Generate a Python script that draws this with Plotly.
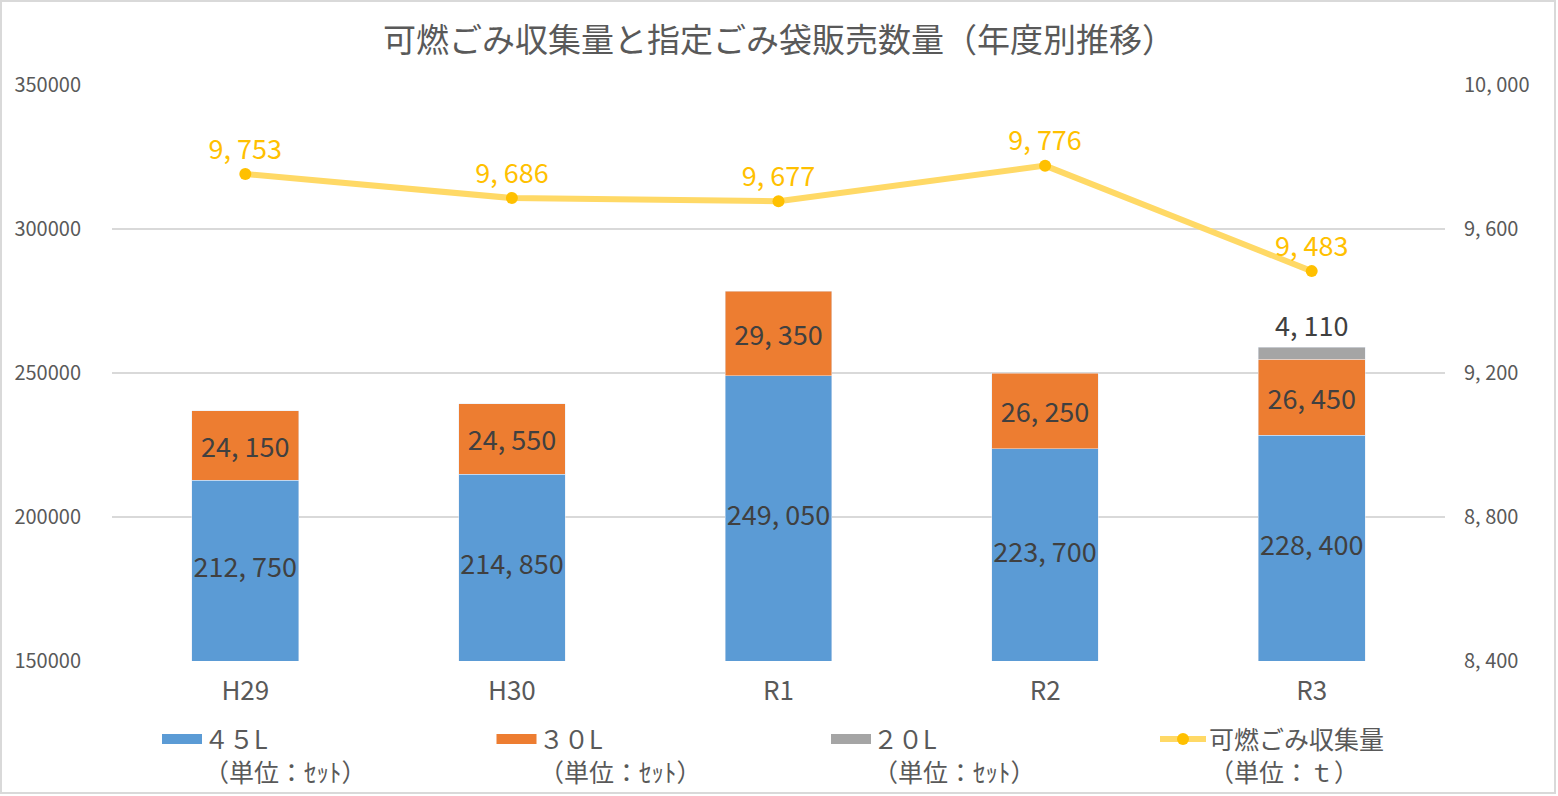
import plotly.graph_objects as go

years = ["H29", "H30", "R1", "R2", "R3"]
bags_45 = [212750, 214850, 249050, 223700, 228400]
bags_30 = [24150, 24550, 29350, 26250, 26450]
bags_20 = [None, None, None, None, 4110]
burnable_t = [9753, 9686, 9677, 9776, 9483]

left_ticks = [150000, 200000, 250000, 300000, 350000]
right_ticks = [8400, 8800, 9200, 9600, 10000]

title_text = "可燃ごみ収集量と指定ごみ袋販売数量（年度別推移）"
legend_names = ["４５L", "３０L", "２０L", "可燃ごみ収集量"]
legend_units = ["（単位：ｾｯﾄ）", "（単位：ｾｯﾄ）", "（単位：ｾｯﾄ）", "（単位：ｔ）"]
colors = ["#5B9BD5", "#ED7D31", "#A5A5A5"]
LINE_C, MARK_C = "#FFD966", "#FFC000"

FONT = "Noto Sans CJK JP, Noto Sans, sans-serif"

def fmt(v):
    return "" if v is None else f"{v:,}".replace(",", ", ")

W, H = 1558, 796
L, R, T, B = 112, 113, 85, 135
pw, ph = W - L - R, H - T - B
Y0 = 150000

def px(x):
    return (x - L) / pw

def py(y):
    return (T + ph - y) / ph

fig = go.Figure()
fig.add_trace(go.Bar(x=years, y=bags_45, name=legend_names[0], marker_color=colors[0],
                     width=0.4, showlegend=False, hoverinfo="skip"))
fig.add_trace(go.Bar(x=years, y=bags_30, name=legend_names[1], marker_color=colors[1],
                     width=0.4, showlegend=False, text=[fmt(v) for v in bags_30],
                     textposition="inside", insidetextanchor="middle", textangle=0,
                     textfont=dict(family=FONT, size=27, color="#404040")))
fig.add_trace(go.Bar(x=years, y=bags_20, name=legend_names[2], marker_color=colors[2],
                     width=0.4, showlegend=False, text=[fmt(v) for v in bags_20],
                     textposition="outside", textangle=0, cliponaxis=False,
                     textfont=dict(family=FONT, size=27, color="#404040")))
# labels of the 45L segment, centred on its visible part
fig.add_trace(go.Scatter(x=years, y=[(Y0 + v) / 2 for v in bags_45], mode="text",
                         text=[fmt(v) for v in bags_45], showlegend=False,
                         textfont=dict(family=FONT, size=27, color="#404040"),
                         hoverinfo="skip"))
fig.add_trace(go.Scatter(x=years, y=burnable_t, name=legend_names[3], yaxis="y2",
                         mode="lines+markers+text", showlegend=False,
                         line=dict(color=LINE_C, width=6),
                         marker=dict(color=MARK_C, size=12),
                         text=[fmt(v) for v in burnable_t], textposition="top center",
                         textfont=dict(family=FONT, size=27, color=MARK_C),
                         cliponaxis=False))

shapes = [dict(type="rect", xref="paper", yref="paper",
               x0=px(1), x1=px(W - 3), y0=py(H - 3), y1=py(1),
               line=dict(color="#D9D9D9", width=2), fillcolor="rgba(0,0,0,0)", layer="above")]
annotations = []
step = 334.5
for i in range(4):
    x0 = 162 + step * i
    if i < 3:
        shapes.append(dict(type="rect", xref="paper", yref="paper",
                           x0=px(x0), x1=px(x0 + 40), y0=py(744), y1=py(734),
                           fillcolor=colors[i], line=dict(width=0)))
        tx = x0 + 40
    else:
        x0 = 1160
        shapes.append(dict(type="line", xref="paper", yref="paper",
                           x0=px(x0), x1=px(x0 + 46), y0=py(739), y1=py(739),
                           line=dict(color=LINE_C, width=6)))
        shapes.append(dict(type="circle", xref="paper", yref="paper",
                           x0=px(x0 + 17), x1=px(x0 + 29), y0=py(745), y1=py(733),
                           fillcolor=MARK_C, line=dict(width=0)))
        tx = x0 + 47
    annotations.append(dict(xref="paper", yref="paper", x=px(tx), y=py(718),
                            xanchor="left", yanchor="top", showarrow=False, align="left",
                            text=legend_names[i] + "<br>" + legend_units[i],
                            font=dict(family=FONT, size=25, color="#595959")))

fig.update_layout(
    width=W, height=H,
    margin=dict(l=L, r=R, t=T, b=B, autoexpand=False),
    paper_bgcolor="white", plot_bgcolor="white",
    barmode="stack",
    showlegend=False,
    title=dict(text=title_text, x=0.5, xanchor="center", y=1 - 40 / H, yanchor="middle",
               font=dict(family=FONT, size=33, color="#595959")),
    xaxis=dict(showgrid=False, showline=False, ticks="", zeroline=False, automargin=False,
               tickfont=dict(family=FONT, size=26, color="#595959"),
               ticklabelstandoff=12),
    yaxis=dict(range=[Y0, 350000], tickvals=left_ticks, ticktext=[str(v) for v in left_ticks],
               gridcolor="#D9D9D9", gridwidth=1.5, zeroline=False, showline=False,
               automargin=False,
               tickfont=dict(family=FONT, size=20, color="#595959"),
               ticklabelstandoff=30),
    yaxis2=dict(range=[8400, 10000], tickvals=right_ticks, ticktext=[fmt(v) for v in right_ticks],
                overlaying="y", side="right", showgrid=False, zeroline=False, showline=False,
                automargin=False,
                tickfont=dict(family=FONT, size=20, color="#595959"),
                ticklabelstandoff=18),
    shapes=shapes,
    annotations=annotations,
)

fig.write_html("out.html")
